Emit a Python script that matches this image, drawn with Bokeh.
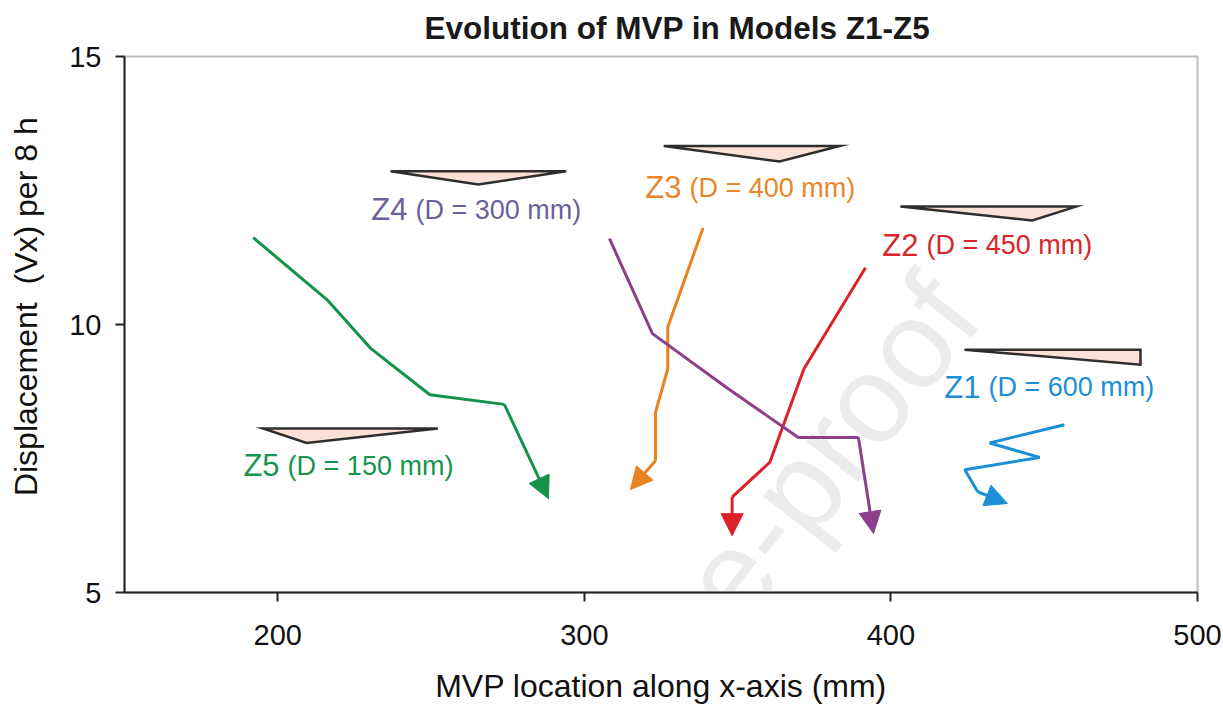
from bokeh.plotting import figure
from bokeh.models import Arrow, NormalHead, Title, Label, FixedTicker
from bokeh.core.properties import value
from bokeh.embed import file_html
from bokeh.resources import INLINE

# ---------------- data ----------------
models = ["Z1", "Z2", "Z3", "Z4", "Z5"]
depth_text = ["(D = 600 mm)", "(D = 450 mm)", "(D = 400 mm)", "(D = 300 mm)", "(D = 150 mm)"]

# MVP path (x = MVP location, mm ; y = displacement per 8 h); last point = arrow tip
z1_x = [456.6, 432.2, 448.5, 424.1, 428.3, 438.0]
z1_y = [8.13, 7.79, 7.52, 7.29, 6.88, 6.66]
z2_x = [391.7, 371.6, 360.5, 348.2, 348.2]
z2_y = [11.06, 9.17, 7.43, 6.78, 6.06]
z3_x = [338.7, 327.2, 327.2, 323.2, 323.2, 315.0]
z3_y = [11.80, 9.95, 9.17, 8.36, 7.46, 6.92]
z4_x = [308.2, 322.2, 346.7, 369.8, 389.4, 394.3]
z4_y = [11.60, 9.83, 8.81, 7.89, 7.89, 6.10]
z5_x = [192.0, 216.1, 230.2, 249.6, 273.9, 288.3]
z5_y = [11.62, 10.46, 9.56, 8.69, 8.51, 6.75]

# wedge (depth profile) sketches
w1_x = [424.0, 481.4, 481.4]; w1_y = [9.53, 9.53, 9.25]
w2_x = [403.1, 460.4, 446.1]; w2_y = [12.20, 12.20, 11.94]
w3_x = [325.9, 383.3, 363.7]; w3_y = [13.33, 13.33, 13.04]
w4_x = [236.8, 294.1, 265.4]; w4_y = [12.86, 12.86, 12.61]
w5_x = [195.2, 252.2, 209.4]; w5_y = [8.06, 8.06, 7.79]

x_ticks = [200, 300, 400, 500]
y_ticks = [5, 10, 15]

# ---------------- styling ----------------
line_colors = ["#1c8fd6", "#dc2228", "#e8821e", "#8d3f8c", "#14924a"]
label_colors = ["#1c8fd6", "#d8262b", "#e8862a", "#6c5f9c", "#17954c"]
label_anchor_x = [430.5, 410.3, 333.0, 243.6, 201.9]
label_anchor_y = [8.62, 11.27, 12.35, 11.94, 7.16]
FONT = "Liberation Sans"

p = figure(width=1223, height=707, x_range=(150, 500), y_range=(5, 15),
           output_backend="svg", toolbar_location=None,
           min_border_left=124, min_border_right=26, min_border_top=56, min_border_bottom=115)
p.background_fill_color = "white"
p.border_fill_color = "white"
p.outline_line_color = "#bdbdbd"
p.outline_line_width = 2
p.xgrid.grid_line_color = None
p.ygrid.grid_line_color = None

p.add_layout(Title(text="Evolution of MVP in Models Z1-Z5", text_font=FONT,
                   text_font_size="31.5px", text_font_style="bold", text_color="#1a1a1a",
                   align="left", offset=300, standoff=17, vertical_align="top"), "above")

for ax in (p.xaxis[0], p.yaxis[0]):
    ax.axis_line_color = "#222222"
    ax.axis_line_width = 2
    ax.major_tick_line_color = "#222222"
    ax.major_tick_line_width = 2
    ax.major_tick_out = 9
    ax.major_tick_in = 0
    ax.minor_tick_line_color = None
    ax.major_label_text_font = FONT
    ax.major_label_text_font_size = "29px"
    ax.major_label_text_color = "#111111"
    ax.axis_label_text_font = FONT
    ax.axis_label_text_font_size = "32px"
    ax.axis_label_text_font_style = "normal"
    ax.axis_label_text_color = "#111111"

p.xaxis.ticker = FixedTicker(ticks=x_ticks)
p.yaxis.ticker = FixedTicker(ticks=y_ticks)
p.xaxis.axis_label = "MVP location along x-axis (mm)"
p.yaxis.axis_label = "\u00a0\u00a0\u00a0\u00a0Displacement\u00a0 (Vx) per 8 h"
p.xaxis.major_label_standoff = 23
p.yaxis.major_label_standoff = 14
p.xaxis.axis_label_standoff = 20
p.yaxis.axis_label_standoff = 22

# watermark
p.add_layout(Label(x=419.7, y=10.6, text="Pre-proof", angle=52, angle_units="deg",
                   text_align="right", text_baseline="alphabetic", text_font=FONT,
                   text_font_size="125px", text_color="#ececec", level="underlay"))

# wedges
p.patches(xs=[w1_x, w2_x, w3_x, w4_x, w5_x], ys=[w1_y, w2_y, w3_y, w4_y, w5_y],
          fill_color="#fbe1d8", line_color="#2e2e2e", line_width=2.5, line_join="miter")

paths = [(z1_x, z1_y), (z2_x, z2_y), (z3_x, z3_y), (z4_x, z4_y), (z5_x, z5_y)]
for (xs, ys), c in zip(paths, line_colors):
    p.line(xs[:-1], ys[:-1], line_color=c, line_width=3)
    p.add_layout(Arrow(end=NormalHead(size=22, fill_color=c, line_color=c, line_width=1),
                       x_start=xs[-2], y_start=ys[-2], x_end=xs[-1], y_end=ys[-1],
                       line_color=c, line_width=3))

# labels: "Zn" bigger, depth text smaller
p.text(x=label_anchor_x, y=label_anchor_y, text=models, x_offset=-4, y_offset=-11,
       text_align="right", text_baseline="alphabetic", text_font=value(FONT),
       text_font_size="31px", text_color=label_colors)
p.text(x=label_anchor_x, y=label_anchor_y, text=depth_text, x_offset=4, y_offset=-11,
       text_align="left", text_baseline="alphabetic", text_font=value(FONT),
       text_font_size="27px", text_color=label_colors)

open("out.html", "w").write(file_html(p, INLINE))
